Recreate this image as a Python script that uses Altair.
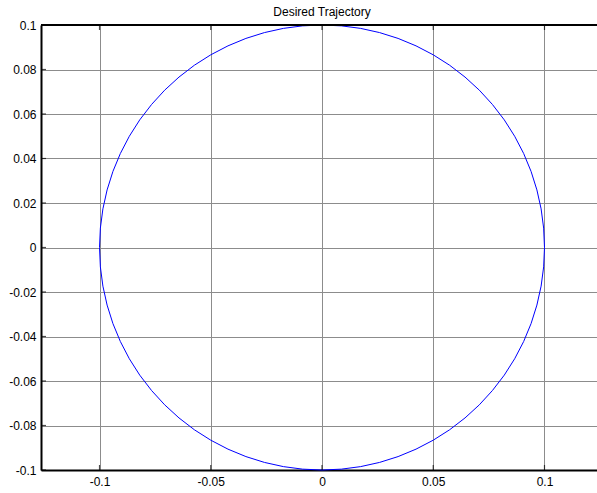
import altair as alt
import pandas as pd

# Circle trajectory points (radius 0.1, every 5 degrees)
x_vals = [0.1, 0.09962, 0.09848, 0.09659, 0.09397, 0.09063, 0.0866, 0.08192, 0.0766, 0.07071,
          0.06428, 0.05736, 0.05, 0.04226, 0.0342, 0.02588, 0.01736, 0.00872, 0.0,
          -0.00872, -0.01736, -0.02588, -0.0342, -0.04226, -0.05, -0.05736, -0.06428, -0.07071,
          -0.0766, -0.08192, -0.0866, -0.09063, -0.09397, -0.09659, -0.09848, -0.09962, -0.1,
          -0.09962, -0.09848, -0.09659, -0.09397, -0.09063, -0.0866, -0.08192, -0.0766, -0.07071,
          -0.06428, -0.05736, -0.05, -0.04226, -0.0342, -0.02588, -0.01736, -0.00872, 0.0,
          0.00872, 0.01736, 0.02588, 0.0342, 0.04226, 0.05, 0.05736, 0.06428, 0.07071,
          0.0766, 0.08192, 0.0866, 0.09063, 0.09397, 0.09659, 0.09848, 0.09962, 0.1]
y_vals = [0.0, 0.00872, 0.01736, 0.02588, 0.0342, 0.04226, 0.05, 0.05736, 0.06428, 0.07071,
          0.0766, 0.08192, 0.0866, 0.09063, 0.09397, 0.09659, 0.09848, 0.09962, 0.1,
          0.09962, 0.09848, 0.09659, 0.09397, 0.09063, 0.0866, 0.08192, 0.0766, 0.07071,
          0.06428, 0.05736, 0.05, 0.04226, 0.0342, 0.02588, 0.01736, 0.00872, 0.0,
          -0.00872, -0.01736, -0.02588, -0.0342, -0.04226, -0.05, -0.05736, -0.06428, -0.07071,
          -0.0766, -0.08192, -0.0866, -0.09063, -0.09397, -0.09659, -0.09848, -0.09962, -0.1,
          -0.09962, -0.09848, -0.09659, -0.09397, -0.09063, -0.0866, -0.08192, -0.0766, -0.07071,
          -0.06428, -0.05736, -0.05, -0.04226, -0.0342, -0.02588, -0.01736, -0.00872, 0.0]

x_ticks = [-0.1, -0.05, 0, 0.05, 0.1]
y_ticks = [-0.1, -0.08, -0.06, -0.04, -0.02, 0, 0.02, 0.04, 0.06, 0.08, 0.1]
title_text = "Desired Trajectory"

df = pd.DataFrame({"x": x_vals, "y": y_vals, "i": list(range(len(x_vals)))})
xt = pd.DataFrame({"v": x_ticks})
yt = pd.DataFrame({"v": y_ticks})

label_expr = "replace(format(datum.value, '~g'), '\u2212', '-')"

xscale = alt.Scale(domain=[-0.1263, 0.1236], nice=False, zero=False)
yscale = alt.Scale(domain=[-0.1, 0.1], nice=False, zero=False)

axis_common = dict(grid=True, tickSize=0, domainColor="#000000", domainWidth=2,
                   labelFont="Liberation Sans", labelFontSize=12, labelColor="#000000",
                   gridColor="#8c8c8c", gridWidth=1, gridOpacity=1, labelExpr=label_expr)

line = alt.Chart(df).mark_line(color="#0000ff", strokeWidth=1).encode(
    x=alt.X("x:Q", scale=xscale, title=None,
            axis=alt.Axis(values=x_ticks, labelPadding=6, **axis_common)),
    y=alt.Y("y:Q", scale=yscale, title=None,
            axis=alt.Axis(values=y_ticks, labelPadding=5, **axis_common)),
    order="i:Q",
)

top_border = alt.Chart(df).mark_rule(color="#000000", strokeWidth=2).encode(
    y=alt.datum(0.1, scale=yscale)
)

# small inward tick marks (MATLAB style)
top_ticks = alt.Chart(xt).mark_tick(color="#000000", size=5, thickness=1.2).encode(
    x=alt.X("v:Q", scale=xscale), y=alt.value(2.5)
)
bottom_ticks = alt.Chart(xt).mark_tick(color="#000000", size=5, thickness=1.2).encode(
    x=alt.X("v:Q", scale=xscale), y=alt.value(442.5)
)
left_ticks = alt.Chart(yt).mark_tick(color="#000000", size=5, thickness=1.2).encode(
    y=alt.Y("v:Q", scale=yscale), x=alt.value(2.5)
)

title_mark = alt.Chart(pd.DataFrame({"t": [title_text]})).mark_text(
    font="Liberation Sans", fontSize=12, color="#000000", align="center", baseline="alphabetic"
).encode(
    text="t:N",
    x=alt.datum(0, scale=xscale),
    y=alt.value(-9),
)

chart = alt.layer(line, top_ticks, bottom_ticks, left_ticks, top_border, title_mark).properties(
    width=556,
    height=445,
    padding={"left": 41, "top": 25, "right": 0, "bottom": 23},
    autosize=alt.AutoSizeParams(type="none"),
    background="#ffffff",
).configure_view(stroke=None, clip=False)

chart.save("out.html", embed_options={"renderer": "svg", "actions": False})
